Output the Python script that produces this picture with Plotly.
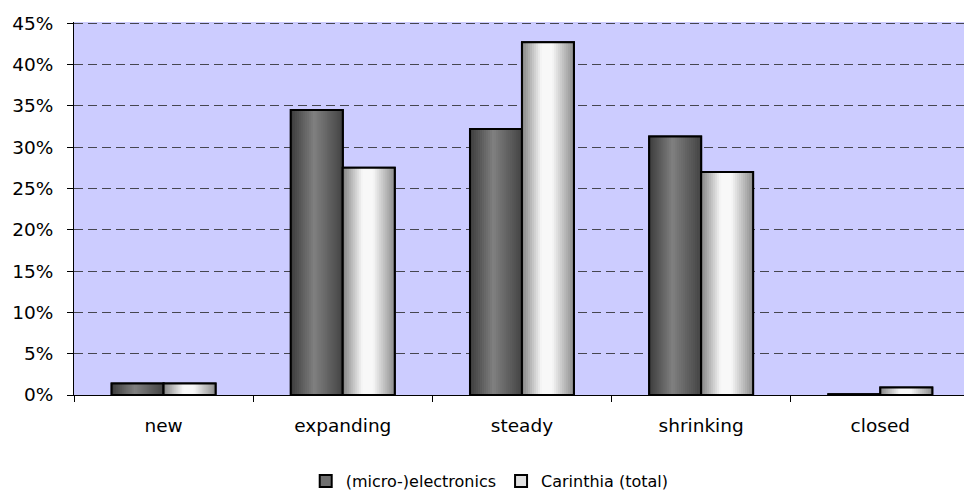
import plotly.graph_objects as go

categories = ["new", "expanding", "steady", "shrinking", "closed"]
micro_electronics = [1.4, 34.5, 32.2, 31.3, 0.1]
carinthia_total = [1.4, 27.5, 42.7, 27.0, 0.9]
y_ticks = [0, 5, 10, 15, 20, 25, 30, 35, 40, 45]
y_tick_labels = ["0%", "5%", "10%", "15%", "20%", "25%", "30%", "35%", "40%", "45%"]

FONT = dict(family="DejaVu Sans", size=18.5, color="black")
LEGEND_FONT = dict(family="DejaVu Sans", size=16, color="black")
BAR_W = 0.29      # width of each bar in category units
N_STRIPS = 26     # vertical strips used to shade each bar

# horizontal shading profiles (position across bar -> grey level)
micro_profile = [(0.0, 0x3c), (0.45, 0x80), (1.0, 0x44)]
carinthia_profile = [(0.0, 0x84), (0.38, 0xf8), (0.58, 0xf8), (1.0, 0x8c)]


def grey_at(profile, t):
    for (t0, v0), (t1, v1) in zip(profile, profile[1:]):
        if t0 <= t <= t1:
            v = v0 + (v1 - v0) * (t - t0) / (t1 - t0)
            v = int(round(v))
            return f"rgb({v},{v},{v})"
    v = profile[-1][1]
    return f"rgb({v},{v},{v})"


fig = go.Figure()


def add_series(name, values, offset, profile, legend_color):
    # base bar carries the legend entry
    fig.add_trace(go.Bar(
        x=categories, y=values, name=name, width=BAR_W, offset=offset,
        marker=dict(color=legend_color, line=dict(color="black", width=2)),
        hoverinfo="skip",
    ))
    # shaded strips, each overlapping the next to avoid seams
    sw = BAR_W / N_STRIPS
    for i in range(N_STRIPS):
        start = offset + i * sw
        w = min(2 * sw, offset + BAR_W - start)
        fig.add_trace(go.Bar(
            x=categories, y=values, width=w, offset=start,
            marker=dict(color=grey_at(profile, (i + 0.5) / N_STRIPS), line=dict(width=0)),
            showlegend=False, hoverinfo="skip",
        ))
    # outline on top
    fig.add_trace(go.Bar(
        x=categories, y=values, width=BAR_W, offset=offset,
        marker=dict(color="rgba(0,0,0,0)", line=dict(color="black", width=2)),
        showlegend=False, hoverinfo="skip",
    ))


add_series("(micro-)electronics", micro_electronics, -BAR_W, micro_profile, "rgb(112,112,112)")
add_series("Carinthia (total)", carinthia_total, 0.0, carinthia_profile, "rgb(225,225,225)")

fig.update_layout(
    width=964, height=495,
    margin=dict(l=74, r=0, t=22, b=100),
    paper_bgcolor="white",
    plot_bgcolor="rgb(204,204,255)",
    barmode="overlay",
    font=FONT,
    showlegend=True,
    legend=dict(
        orientation="h", xref="container", yref="container",
        x=0.508, xanchor="center", y=0.028, yanchor="middle",
        font=LEGEND_FONT, itemwidth=30, traceorder="normal",
        bgcolor="rgba(0,0,0,0)",
    ),
)

fig.update_xaxes(
    type="category", range=[-0.5, 4.467],
    showgrid=False, zeroline=False,
    showline=True, linecolor="black", linewidth=1,
    ticks="outside", tickson="boundaries", ticklen=6, tickcolor="black",
    ticklabelstandoff=14, tickfont=FONT,
)

fig.update_yaxes(
    range=[0, 45.15], tickmode="array", tickvals=y_ticks, ticktext=y_tick_labels,
    showgrid=True, gridcolor="rgb(70,70,80)", gridwidth=1, griddash="9px,5px",
    zeroline=False,
    showline=True, linecolor="black", linewidth=1,
    ticks="outside", ticklen=6, tickcolor="black",
    ticklabelstandoff=10, tickfont=FONT,
)

fig.write_html("out.html")
